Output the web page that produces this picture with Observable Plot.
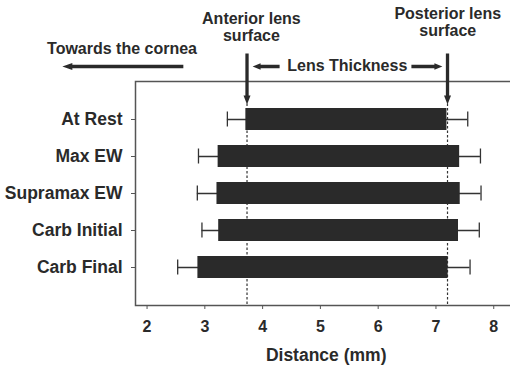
<!DOCTYPE html>
<html>
<head>
<meta charset="utf-8">
<script src="https://cdn.jsdelivr.net/npm/d3@7"></script>
<script src="https://cdn.jsdelivr.net/npm/@observablehq/plot@0.6"></script>
<style>
  html, body { margin: 0; padding: 0; background: white; }
  #chart svg { display: block; }
</style>
</head>
<body>
<div id="chart"></div>
<script>
// ---- data ----
const categories = ["At Rest", "Max EW", "Supramax EW", "Carb Initial", "Carb Final"];
const barStart = [3.71, 3.23, 3.21, 3.24, 2.88];   // anterior surface (mm)
const barEnd   = [7.19, 7.41, 7.42, 7.39, 7.21];   // posterior surface (mm)
const errLow   = [3.39, 2.89, 2.87, 2.95, 2.53];
const errHigh  = [7.55, 7.77, 7.78, 7.75, 7.59];
const xTicks = [2, 3, 4, 5, 6, 7, 8];
const surfaceLines = [3.73, 7.2];
const surfaceLabels = ["Anterior lens\nsurface", "Posterior lens\nsurface"];

const rows = categories.map((c, i) => ({
  cat: c, start: barStart[i], end: barEnd[i], lo: errLow[i], hi: errHigh[i]
}));

// filled arrow shape for vector marks
function arrowShape(shaft, headW, headL) {
  return {
    draw(ctx, l) {
      const s = shaft / 2, h = headW / 2, b = l - headL;
      ctx.moveTo(-s, 0);
      ctx.lineTo(-s, -b);
      ctx.lineTo(-h, -b);
      ctx.lineTo(0, -l);
      ctx.lineTo(h, -b);
      ctx.lineTo(s, -b);
      ctx.lineTo(s, 0);
      ctx.closePath();
    }
  };
}

const ink = "#2a2a2a";
const lineCol = "#555";
const font = "'Liberation Sans', Arial, Helvetica, sans-serif";

const chart = Plot.plot({
  width: 510,
  height: 365,
  marginTop: 81,
  marginBottom: 60,
  marginLeft: 135,
  marginRight: 0,
  style: { fontFamily: font, fontWeight: "bold", color: ink, background: "white", overflow: "hidden" },
  x: { domain: [1.8, 8.29] },
  y: { domain: categories, paddingInner: 0.4, paddingOuter: 0.69 },
  marks: [
    Plot.frame({ stroke: lineCol, strokeWidth: 1.5, insetRight: -6 }),
    Plot.ruleX(surfaceLines, { stroke: "#333", strokeWidth: 1.2, strokeDasharray: "2.5,2" }),
    Plot.ruleY(rows, { y: "cat", x1: "lo", x2: "hi", stroke: "#333", strokeWidth: 1.3 }),
    Plot.tickX(rows, { y: "cat", x: "lo", stroke: "#333", strokeWidth: 1.3, insetTop: 3.5, insetBottom: 3.5 }),
    Plot.tickX(rows, { y: "cat", x: "hi", stroke: "#333", strokeWidth: 1.3, insetTop: 3.5, insetBottom: 3.5 }),
    Plot.barX(rows, { y: "cat", x1: "start", x2: "end", fill: ink }),
    Plot.axisX({ ticks: xTicks, tickFormat: d => String(d), tickSize: 4, tickPadding: 11, fontSize: 16, label: null, stroke: lineCol }),
    Plot.axisY({ tickSize: 4, tickPadding: 9, fontSize: 17.5, label: null, stroke: lineCol }),
    Plot.text(["Distance (mm)"], { text: d => d, x: 5.1, frameAnchor: "bottom", dy: 50, fontSize: 17.5, lineAnchor: "middle" }),
    // top annotations
    Plot.text(["Towards the cornea"], { text: d => d, x: 1.567, frameAnchor: "top", dy: -33, fontSize: 16, lineAnchor: "middle" }),
    Plot.text(["Lens Thickness"], { text: d => d, x: 5.465, frameAnchor: "top", dy: -16, fontSize: 16, lineAnchor: "middle" }),
    Plot.text([0], { text: () => surfaceLabels[0], x: 3.806, frameAnchor: "top", dy: -54.5, fontSize: 16, lineHeight: 1.07, lineAnchor: "middle" }),
    Plot.text([0], { text: () => surfaceLabels[1], x: 7.204, frameAnchor: "top", dy: -59.5, fontSize: 16, lineHeight: 1.07, lineAnchor: "middle" }),
    // vertical surface arrows
    Plot.vector(surfaceLines, { x: d => d, frameAnchor: "top", dy: -28, rotate: 180, length: 51, anchor: "start",
      shape: arrowShape(3.3, 7, 9), fill: ink, stroke: "none" }),
    // cornea arrow (pointing left)
    Plot.vector([2.628], { x: d => d, frameAnchor: "top", dy: -15, rotate: 270, length: 121, anchor: "start",
      shape: arrowShape(3.5, 7, 10), fill: ink, stroke: "none" }),
    // lens thickness arrows
    Plot.vector([4.294], { x: d => d, frameAnchor: "top", dy: -15, rotate: 270, length: 27, anchor: "start",
      shape: arrowShape(3.3, 6.5, 8), fill: ink, stroke: "none" }),
    Plot.vector([6.575], { x: d => d, frameAnchor: "top", dy: -15, rotate: 90, length: 31, anchor: "start",
      shape: arrowShape(3.3, 6.5, 8), fill: ink, stroke: "none" })
  ]
});

document.getElementById("chart").appendChild(chart);
</script>
</body>
</html>
